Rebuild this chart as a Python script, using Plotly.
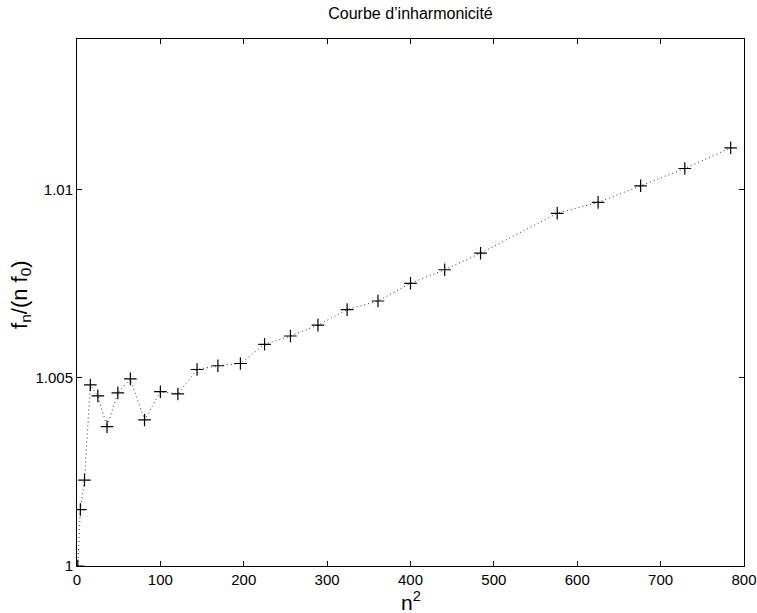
import plotly.graph_objects as go

# Harmonic numbers (n = 23 absent in the reference)
n_values = [1, 2, 3, 4, 5, 6, 7, 8, 9, 10, 11, 12, 13, 14, 15, 16, 17, 18, 19, 20,
            21, 22, 24, 25, 26, 27, 28]
n_squared = [n * n for n in n_values]
ratio = [1.0000, 1.00150, 1.00228, 1.00481, 1.00452, 1.00370, 1.00460, 1.00497,
         1.00388, 1.00463, 1.00457, 1.00522, 1.00532, 1.00538, 1.00589, 1.00611,
         1.00640, 1.00681, 1.00704, 1.00751, 1.00787, 1.00831, 1.00937, 1.00966,
         1.01010, 1.01056, 1.01111]

x_ticks = [0, 100, 200, 300, 400, 500, 600, 700, 800]
y_ticks = [1.0, 1.005, 1.01]
y_tick_labels = ["1", "1.005", "1.01"]

FONT = "Liberation Sans, Arial, Helvetica, sans-serif"

fig = go.Figure()
fig.add_trace(go.Scatter(
    x=n_squared, y=ratio, mode="lines+markers",
    line=dict(color="#333333", width=1, dash="1px,3px"),
    marker=dict(symbol="cross-thin", size=9, line=dict(color="black", width=1.2)),
    showlegend=False,
))

axis_common = dict(
    showline=True, linecolor="black", linewidth=1, mirror="ticks",
    ticks="inside", ticklen=5, tickcolor="black", tickwidth=1,
    showgrid=False, zeroline=False, automargin=False,
    tickfont=dict(family=FONT, size=15, color="black"),
)

fig.update_layout(
    width=757, height=613,
    margin=dict(l=77, r=13, t=39, b=47, autoexpand=False),
    paper_bgcolor="white", plot_bgcolor="white",
    font=dict(family=FONT, color="black"),
    title=dict(text="Courbe d\u2019inharmonicité", xref="paper", x=0.5, xanchor="center",
               y=1 - 13 / 613, yanchor="middle",
               font=dict(family=FONT, size=16, color="black")),
    xaxis=dict(range=[0, 800], tickvals=x_ticks, **axis_common),
    yaxis=dict(range=[1.0, 1.014], tickvals=y_ticks, ticktext=y_tick_labels,
               **axis_common),
    annotations=[
        dict(text="n<sup>2</sup>", xref="paper", yref="paper", x=0.5, y=-0.067,
             xanchor="center", yanchor="middle", showarrow=False,
             font=dict(family=FONT, size=21, color="black")),
        dict(text="f<sub>n</sub>/(n f<sub>0</sub>)", xref="paper", yref="paper",
             x=-0.085, y=0.515, xanchor="center", yanchor="middle", textangle=-90,
             showarrow=False, font=dict(family=FONT, size=22, color="black")),
    ],
)

fig.write_html("out.html", config={"displayModeBar": False},
               post_script="document.body.style.margin='0';document.body.style.overflow='hidden';")
